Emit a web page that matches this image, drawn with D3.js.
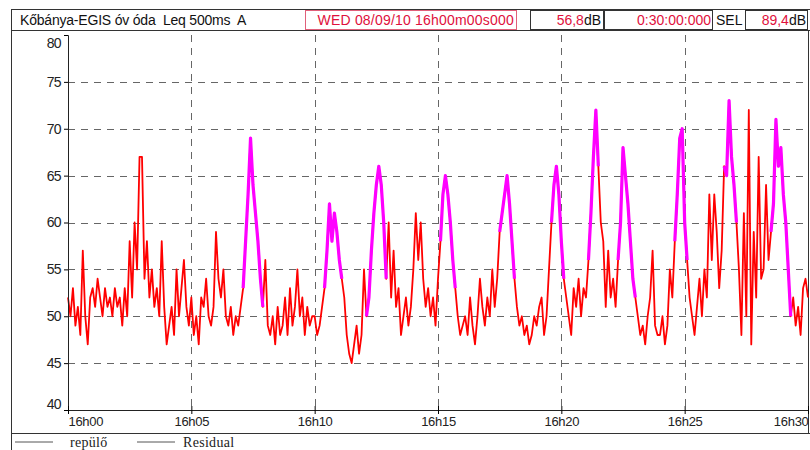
<!DOCTYPE html>
<html lang="hu">
<head>
<meta charset="UTF-8">
<script src="https://d3js.org/d3.v7.min.js"></script>
<title>Leq 500ms</title>
<style>
  body { margin: 0; background: #fff; }
  text { font-family: "Liberation Sans", Arial, sans-serif; white-space: pre; }
</style>
</head>
<body>
<script>
// header texts
var siteTitle = "Kőbánya-EGIS óv óda  Leq 500ms  A";
var startStamp = "WED 08/09/10 16h00m00s000";
var leqValue = "56,8";
var durationText = "0:30:00:000";
var selValue = "89,4";

// axes
var yTicks = [40, 45, 50, 55, 60, 65, 70, 75, 80];
var xTickMinutes = [0, 5, 10, 15, 20, 25, 30];
var xTickLabels = ["16h00", "16h05", "16h10", "16h15", "16h20", "16h25", "16h30"];

// level in dB(A), one value every 6 s (10 per minute row)
var stepSeconds = 6;
var levels = [
  52, 50, 53, 49, 51, 48, 57, 50, 47, 52,
  53, 51, 54, 52, 50, 53, 51, 52, 50, 53,
  51, 52, 49, 53, 50, 58, 52, 60, 55, 67,
  67, 54, 58, 52, 55, 51, 53, 50, 58, 51,
  47, 49, 51, 48, 55, 50, 53, 56, 51, 49,
  52, 48, 50, 47, 52, 51, 54, 50, 49, 51,
  59, 54, 52, 55, 50, 49, 51, 48, 50, 49,
  51, 53, 58, 63, 69, 64, 61, 58, 54, 51,
  56, 49, 48, 50, 47, 51, 48, 49, 52, 48,
  53, 49, 51, 55, 50, 52, 48, 51, 49, 50,
  50, 48, 49, 51, 53, 57, 62, 58, 61, 59,
  56, 54, 52, 48, 46, 45, 47, 49, 46, 48,
  55, 50, 52, 57, 61, 64, 66, 64, 60, 54,
  60, 52, 57, 51, 53, 48, 50, 52, 49, 51,
  55, 61, 56, 60, 54, 51, 53, 50, 52, 49,
  54, 58, 63, 65, 63, 60, 56, 53, 50, 48,
  49, 50, 48, 52, 49, 47, 50, 54, 51, 49,
  52, 50, 55, 51, 54, 59, 61, 63, 65, 62,
  58, 54, 51, 49, 50, 48, 49, 47, 48, 50,
  49, 51, 52, 48, 50, 55, 60, 64, 66, 63,
  58, 54, 52, 50, 48, 53, 51, 54, 50, 53,
  52, 56, 61, 67, 72, 66, 60, 58, 51, 57,
  52, 54, 51, 56, 60, 68, 65, 62, 58, 54,
  52, 50, 48, 49, 47, 50, 52, 57, 49, 48,
  48, 50, 47, 49, 55, 52, 58, 63, 69, 70,
  60, 56, 52, 50, 48, 51, 54, 50, 55, 52,
  63, 56, 63, 59, 53, 57, 66, 65, 73, 67,
  64, 60, 55, 48, 61, 50, 72, 47, 59, 52,
  67, 54, 55, 64, 56, 59, 62, 71, 66, 68,
  63, 60, 55, 50, 52, 49, 51, 48, 53, 54,
  52
];

// aircraft (repülő) events, [start, end] in minutes after 16h00
var repuloEvents = [
  [7.05, 7.9], [10.4, 11.15], [12.1, 12.95], [15.05, 15.75], [17.45, 18.15],
  [19.55, 20.1], [21.05, 21.55], [22.3, 23.0], [24.55, 25.1], [26.55, 27.1], [28.45, 29.3]
];

var W = 810, H = 450;
var margin = { top: 35, right: 2, bottom: 40, left: 68 };

var svg = d3.select("body").append("svg")
  .attr("width", W)
  .attr("height", H);

var x = d3.scaleLinear().domain([0, 30]).range([margin.left, W - margin.right]);
var y = d3.scaleLinear().domain([40, 80]).range([H - margin.bottom, margin.top]);

var points = levels.map(function (v, i) { return { t: i * stepSeconds / 60, v: v }; });

// frame
svg.append("rect")
  .attr("x", 11.5).attr("y", 9.5)
  .attr("width", W).attr("height", H)
  .attr("fill", "none").attr("stroke", "#333");
svg.append("line")
  .attr("x1", 11).attr("x2", W).attr("y1", 30.5).attr("y2", 30.5)
  .attr("stroke", "#333");
svg.append("line")
  .attr("x1", 11).attr("x2", W).attr("y1", 433.5).attr("y2", 433.5)
  .attr("stroke", "#333");
svg.append("line")
  .attr("x1", 808.5).attr("x2", 808.5).attr("y1", 30).attr("y2", 433)
  .attr("stroke", "#333");

// header cells
var cells = [
  { x0: 305, x1: 516, border: "#e0607a" },
  { x0: 530, x1: 603, border: "#333" },
  { x0: 604, x1: 712, border: "#333" },
  { x0: 745, x1: 807, border: "#333" }
];
svg.selectAll("rect.cell").data(cells).enter().append("rect")
  .attr("class", "cell")
  .attr("x", function (d) { return d.x0 + 0.5; })
  .attr("y", 10.5)
  .attr("width", function (d) { return d.x1 - d.x0; })
  .attr("height", 19)
  .attr("fill", "none")
  .attr("stroke", function (d) { return d.border; });

var hdr = svg.append("g").attr("font-size", 14);
hdr.append("text").attr("x", 20).attr("y", 25).attr("fill", "#111").attr("letter-spacing", -0.2).text(siteTitle);
hdr.append("text").attr("x", 514).attr("y", 25).attr("text-anchor", "end").attr("letter-spacing", 0.2).attr("fill", "#e0103c").text(startStamp);
var t1 = hdr.append("text").attr("x", 601).attr("y", 25).attr("text-anchor", "end");
t1.append("tspan").attr("fill", "#e0103c").text(leqValue);
t1.append("tspan").attr("fill", "#111").text("dB");
hdr.append("text").attr("x", 711).attr("y", 25).attr("text-anchor", "end").attr("fill", "#e0103c").text(durationText);
hdr.append("text").attr("x", 716).attr("y", 25).attr("fill", "#111").text("SEL");
var t2 = hdr.append("text").attr("x", 806).attr("y", 25).attr("text-anchor", "end");
t2.append("tspan").attr("fill", "#e0103c").text(selValue);
t2.append("tspan").attr("fill", "#111").text("dB");

// grid
var grid = svg.append("g")
  .attr("stroke", "#666")
  .attr("stroke-width", 1)
  .attr("stroke-dasharray", "7,6");
grid.selectAll("line.h").data(yTicks.slice(1, -1)).enter().append("line")
  .attr("x1", margin.left).attr("x2", W - margin.right)
  .attr("y1", function (d) { return Math.round(y(d)) + 0.5; })
  .attr("y2", function (d) { return Math.round(y(d)) + 0.5; });
grid.selectAll("line.v").data(xTickMinutes.slice(1, -1)).enter().append("line")
  .attr("y1", margin.top).attr("y2", H - margin.bottom)
  .attr("x1", function (d) { return Math.round(x(d)) + 0.5; })
  .attr("x2", function (d) { return Math.round(x(d)) + 0.5; });

// residual series
var line = d3.line()
  .x(function (d) { return x(d.t); })
  .y(function (d) { return y(d.v); });

svg.append("path")
  .datum(points)
  .attr("fill", "none")
  .attr("stroke", "#ff0000")
  .attr("stroke-width", 1.8)
  .attr("stroke-linejoin", "round")
  .attr("d", line);

// aircraft events
svg.selectAll("path.ev").data(repuloEvents).enter().append("path")
  .attr("class", "ev")
  .attr("fill", "none")
  .attr("stroke", "#ff00ff")
  .attr("stroke-width", 3.2)
  .attr("stroke-linejoin", "round")
  .attr("d", function (e) {
    return line(points.filter(function (p) { return p.t >= e[0] && p.t <= e[1]; }));
  });

// axes
var yAxis = d3.axisLeft(y).tickValues(yTicks).tickSize(4).tickFormat(d3.format("d"));
var gy = svg.append("g")
  .attr("transform", "translate(" + margin.left + ",0)")
  .call(yAxis);
gy.select(".domain").attr("stroke", "#222");
gy.selectAll("text").attr("font-size", 14).attr("fill", "#222").attr("letter-spacing", -0.6)
  .attr("dy", function (d) { return d === 80 ? "0.9em" : d === 40 ? "-0.1em" : "0.32em"; });

var xAxis = d3.axisBottom(x).tickValues(xTickMinutes).tickSize(4)
  .tickFormat(function (d, i) { return xTickLabels[i]; });
var gx = svg.append("g")
  .attr("transform", "translate(0," + (H - margin.bottom) + ")")
  .call(xAxis);
gx.select(".domain").attr("stroke", "#222");
gx.selectAll(".tick line").attr("y1", -4);
gx.selectAll("text").attr("font-size", 13).attr("fill", "#222").attr("letter-spacing", -0.3)
  .attr("y", 7)
  .attr("text-anchor", function (d, i) { return i === 0 ? "start" : i === xTickMinutes.length - 1 ? "end" : "middle"; });

// legend
var legendItems = ["repülő", "Residual"];
var legendX = [15, 137];
var lg = svg.selectAll("g.lg").data(legendItems).enter().append("g")
  .attr("class", "lg")
  .attr("transform", function (d, i) { return "translate(" + legendX[i] + ",442)"; });
lg.append("line").attr("x1", 0).attr("x2", 38).attr("stroke", "#555");
lg.append("text").attr("x", function (d, i) { return i === 0 ? 55 : 46; }).attr("y", 5)
  .style("font-family", "'Liberation Serif', serif")
  .attr("font-size", 14).attr("letter-spacing", 0.3).attr("fill", "#222")
  .text(function (d) { return d; });
</script>
</body>
</html>
